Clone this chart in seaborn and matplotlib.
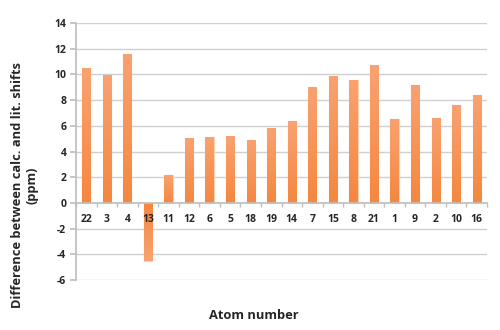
import matplotlib
matplotlib.use("Agg")
import matplotlib.pyplot as plt
import seaborn as sns
import numpy as np
import pandas as pd
from matplotlib.colors import LinearSegmentedColormap

atoms = ["22", "3", "4", "13", "11", "12", "6", "5", "18", "19",
         "14", "7", "15", "8", "21", "1", "9", "2", "10", "16"]
diffs = [10.5, 9.95, 11.6, -4.5, 2.2, 5.05, 5.1, 5.2, 4.9, 5.8,
         6.35, 9.0, 9.9, 9.55, 10.7, 6.55, 9.2, 6.65, 7.6, 8.4]
yticks = [-6, -4, -2, 0, 2, 4, 6, 8, 10, 12, 14]

df = pd.DataFrame({"atom": atoms, "diff": diffs})

sns.set_theme(style="white")
plt.rcParams["font.family"] = ["Open Sans", "DejaVu Sans"]

fig = plt.figure(figsize=(5, 3.3), dpi=100)
ax = fig.add_axes([0.152, 0.1515, 0.822, 0.7785])

sns.barplot(data=df, x="atom", y="diff", order=atoms, color="#F7904A",
            width=0.4, edgecolor="#FBD2B6", linewidth=0.8, ax=ax, zorder=2)

cmap = LinearSegmentedColormap.from_list("og", ["#F5873F", "#F9A271"])
grad = np.linspace(0, 1, 100).reshape(-1, 1)
for p in ax.patches:
    x0, w = p.get_x(), p.get_width()
    y0, h = p.get_y(), p.get_height()
    lo, hi = min(y0, y0 + h), max(y0, y0 + h)
    img = grad if h >= 0 else grad[::-1]
    im = ax.imshow(img, cmap=cmap, aspect="auto", origin="lower",
                   extent=[x0, x0 + w, lo, hi], zorder=2.1)
    im.set_clip_path(p)

ax.set_xlim(-0.5, len(atoms) - 0.5)
ax.set_ylim(-6, 14)
ax.set_yticks(yticks)
ax.set_yticklabels([str(v) for v in yticks], fontsize=7.5, fontweight="bold")

for v in yticks:
    if v != 0:
        ax.axhline(v, color="#D0D0D0", linewidth=1.0, zorder=0.5)

ax.spines["top"].set_visible(False)
ax.spines["right"].set_visible(False)
ax.spines["left"].set_color("#BFBFBF")
ax.spines["bottom"].set_color("#BFBFBF")
ax.spines["bottom"].set_position(("data", 0))
ax.spines["bottom"].set_zorder(3)
ax.xaxis.set_zorder(3)

ax.tick_params(axis="x", which="major", length=0, pad=8, labelsize=7.5)
for t in ax.get_xticklabels():
    t.set_fontweight("bold")
ax.set_xticks(np.arange(len(atoms) + 1) - 0.5, minor=True)
ax.tick_params(axis="x", which="minor", length=3, color="#BFBFBF", direction="out", bottom=True)
ax.tick_params(axis="y", length=4, color="#BFBFBF", direction="out", left=True, pad=3)

ax.set_xlabel("")
ax.set_ylabel("Difference between calc. and lit. shifts\n(ppm)",
              fontsize=9.3, fontweight="bold", linespacing=1.1)
ax.yaxis.set_label_coords(-0.092, 0.37)
fig.text(0.507, 0.045, "Atom number", ha="center", va="center",
         fontsize=9.3, fontweight="bold")

fig.savefig("out.png", dpi=100)
